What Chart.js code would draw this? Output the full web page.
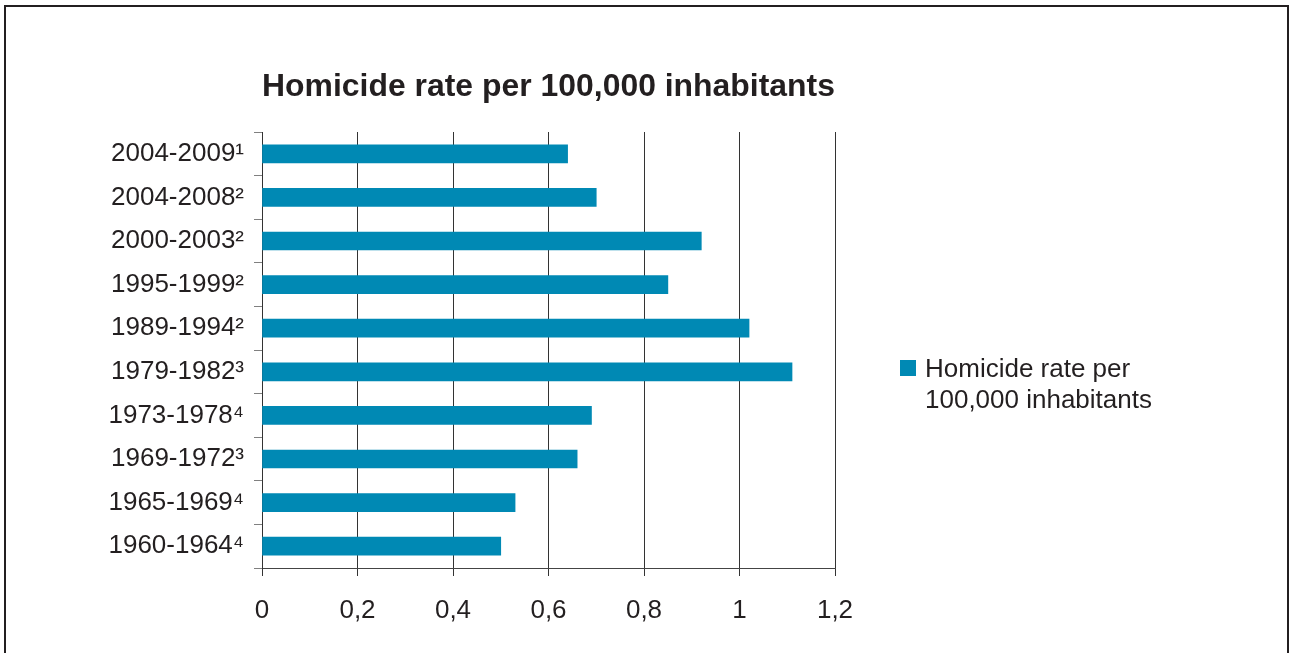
<!DOCTYPE html>
<html>
<head>
<meta charset="utf-8">
<script src="https://cdn.jsdelivr.net/npm/chart.js@4"></script>
<style>
    body{
        margin: 0;
        background: #fff;
        font-family: "Liberation Sans", Arial, sans-serif;
    }
    #frame{
        position: absolute;
        left: 4px;
        top: 5px;
        width: 1285px;
        height: 700px;
        box-sizing: border-box;
        border: 2px solid #231f20;
        border-bottom: none;
    }
    #chart{
        position: absolute;
        left: 0;
        top: 0;
    }
    #legend{
        position: absolute;
        left: 900px;
        top: 353px;
        color: #231f20;
        font-size: 26px;
        line-height: 31px;
    }
    #legend .swatch{
        position: absolute;
        left: 0;
        top: 7px;
        width: 16px;
        height: 16px;
    }
    #legend .label{
        display: block;
        margin-left: 25px;
        white-space: nowrap;
    }
</style>
</head>
<body>
<div id="frame"></div>
<canvas id="chart" width="1289" height="653"></canvas>
<div id="legend"></div>
<script>
// periods, top to bottom as in the picture (superscripts are the footnote marks)
const periods = ['2004-2009¹', '2004-2008²', '2000-2003²', '1995-1999²', '1989-1994²',
                 '1979-1982³', '1973-1978⁴', '1969-1972³', '1965-1969⁴', '1960-1964⁴']
const homicideRates = [0.64, 0.70, 0.92, 0.85, 1.02, 1.11, 0.69, 0.66, 0.53, 0.50]
const xTickLabels = ['0', '0,2', '0,4', '0,6', '0,8', '1', '1,2']
const seriesName = 'Homicide rate per 100,000 inhabitants'
const legendLines = ['Homicide rate per', '100,000 inhabitants']

const ink = '#231f20'
Chart.defaults.font.family = '"Liberation Sans", Arial, sans-serif'
Chart.defaults.color = ink

// legend as html next to the canvas, built from the chart's own legend items
const htmlLegend = {
    id: 'htmlLegend',
    afterUpdate(chart) {
        const box = document.getElementById('legend')
        box.innerHTML = ''
        Chart.defaults.plugins.legend.labels.generateLabels(chart).forEach(item => {
            const swatch = document.createElement('span')
            swatch.className = 'swatch'
            swatch.style.background = item.fillStyle
            const label = document.createElement('span')
            label.className = 'label'
            legendLines.forEach((line, i) => {
                if (i > 0) label.appendChild(document.createElement('br'))
                label.appendChild(document.createTextNode(line))
            })
            box.appendChild(swatch)
            box.appendChild(label)
        })
    }
}

new Chart(document.getElementById('chart'), {
    type: 'bar',
    data: {
        labels: periods,
        datasets: [{
            label: seriesName,
            data: homicideRates,
            backgroundColor: '#0089b4',
            borderWidth: 0,
            barThickness: 18,
        }]
    },
    options: {
        indexAxis: 'y',
        responsive: false,
        animation: false,
        devicePixelRatio: 1,
        layout: {
            padding: {top: 10, right: 454, bottom: 0, left: 0}
        },
        scales: {
            x: {
                min: 0,
                max: 1.2,
                afterFit: scale => { scale.height = 85 },
                ticks: {
                    stepSize: 0.2,
                    padding: 19,
                    font: {size: 26},
                    callback: (value, index) => xTickLabels[index],
                },
                grid: {color: '#333', tickLength: 8, lineWidth: 1},
                border: {color: '#444', width: 1},
            },
            y: {
                afterFit: scale => { scale.width = 262 },
                ticks: {padding: 10, font: {size: 26}},
                grid: {drawOnChartArea: false, tickLength: 8, color: '#808080'},
                border: {color: '#333', width: 1},
            }
        },
        plugins: {
            title: {
                display: true,
                text: seriesName,
                fullSize: false,
                font: {size: 32, weight: 'bold'},
                color: ink,
                padding: {top: 58, bottom: 25.6},
            },
            legend: {display: false},
            tooltip: {enabled: false}
        }
    },
    plugins: [htmlLegend]
})
</script>
</body>
</html>
